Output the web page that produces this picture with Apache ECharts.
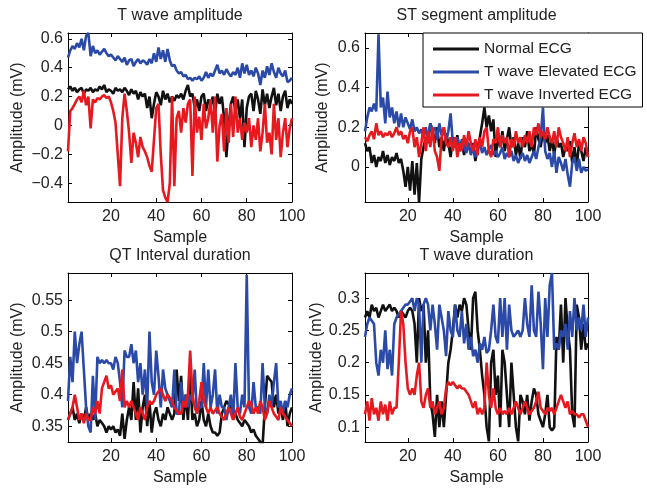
<!DOCTYPE html>
<html>
<head>
<meta charset="utf-8">
<script src="https://cdn.jsdelivr.net/npm/echarts@6/dist/echarts.min.js"></script>
<style>html,body{margin:0;padding:0;background:#fff;}#chart{width:647px;height:490px;}</style>
</head>
<body>
<div id="chart"></div>
<script>
// ---------- DATA ----------
const seriesNames = ['Normal ECG', 'T wave Elevated ECG', 'T wave Inverted ECG'];
const panelTitles = ['T wave amplitude', 'ST segment amplitude', 'QT Interval duration', 'T wave duration'];
const xTicks = [20, 40, 60, 80, 100];
const yTicks1 = [-0.4, -0.2, 0, 0.2, 0.4, 0.6];
const yTicks2 = [0, 0.2, 0.4, 0.6];
const yTicks3 = [0.35, 0.4, 0.45, 0.5, 0.55];
const yTicks4 = [0.1, 0.15, 0.2, 0.25, 0.3];

// T wave amplitude
const tampNormal = [0.25,0.27,0.24,0.26,0.23,0.25,0.26,0.22,0.25,0.24,
 0.26,0.23,0.25,0.24,0.27,0.25,0.28,0.23,0.25,0.24,
 0.22,0.26,0.24,0.25,0.23,0.26,0.24,0.21,0.25,0.22,
 0.24,0.18,0.23,0.20,0.22,0.12,0.20,0.05,0.15,0.23,
 0.20,0.14,0.24,0.18,0.22,0.16,0.20,0.17,0.21,0.19,
 0.22,0.18,0.24,0.28,0.20,0.22,0.12,0.18,0.10,0.20,
 0.22,0.10,0.18,0.14,0.20,0.08,0.22,0.15,0.20,0.05,
 -0.22,0.00,0.15,0.20,0.10,0.18,0.05,0.18,-0.15,0.12,
 0.20,0.22,0.10,0.24,0.18,0.08,0.25,0.14,0.22,0.12,
 0.20,0.26,0.14,0.22,0.10,0.20,0.24,0.12,0.18,0.15];
const tampElevated = [0.47,0.52,0.55,0.53,0.57,0.54,0.60,0.52,0.62,0.64,
 0.48,0.55,0.50,0.52,0.49,0.51,0.53,0.50,0.48,0.49,
 0.47,0.45,0.48,0.46,0.44,0.47,0.42,0.45,0.46,0.41,
 0.44,0.46,0.43,0.45,0.44,0.42,0.46,0.43,0.50,0.44,
 0.54,0.46,0.52,0.44,0.53,0.45,0.41,0.42,0.38,0.36,
 0.37,0.34,0.35,0.32,0.33,0.31,0.33,0.32,0.34,0.31,
 0.33,0.37,0.33,0.36,0.34,0.38,0.42,0.36,0.38,0.35,
 0.39,0.36,0.34,0.37,0.35,0.40,0.33,0.43,0.36,0.42,
 0.35,0.38,0.34,0.40,0.36,0.28,0.38,0.33,0.41,0.35,
 0.43,0.37,0.33,0.40,0.36,0.34,0.38,0.30,0.31,0.33];
const tampInverted = [-0.18,0.10,0.12,0.15,0.18,0.20,0.16,0.24,0.14,0.20,
 -0.02,0.18,0.16,0.19,0.18,0.20,0.21,0.19,0.20,0.16,
 0.10,0.02,-0.20,-0.42,0.05,0.22,0.10,-0.05,-0.26,-0.05,
 -0.12,-0.22,-0.08,-0.15,-0.18,-0.22,-0.28,-0.32,-0.10,0.12,
 0.15,-0.20,-0.45,-0.50,-0.53,-0.40,0.20,-0.42,0.05,0.10,
 -0.05,0.12,0.02,0.15,0.18,-0.35,0.20,-0.05,0.06,-0.10,
 0.15,-0.02,0.05,0.18,-0.05,0.20,-0.25,0.00,0.08,-0.18,
 0.12,-0.12,0.15,-0.08,0.20,-0.05,0.05,-0.10,0.02,-0.05,
 0.05,-0.15,0.00,-0.10,0.05,-0.18,-0.05,0.15,-0.12,-0.05,
 -0.20,0.15,-0.10,0.05,-0.22,-0.05,0.05,-0.15,-0.02,0.05];

// ST segment amplitude
const stNormal = [0.12,0.08,0.10,0.02,0.06,0.00,0.05,0.03,0.08,0.02,
 0.06,0.01,0.05,0.03,0.07,0.02,0.04,-0.02,-0.10,0.00,
 -0.12,0.03,-0.14,0.02,-0.18,0.04,0.10,0.15,0.12,0.22,
 0.18,0.12,0.20,0.10,0.15,0.08,0.17,0.12,0.05,0.15,
 0.10,0.16,0.08,0.12,0.06,0.14,0.10,0.08,0.12,0.03,
 0.10,0.15,0.22,0.30,0.20,0.26,0.18,0.24,0.05,0.15,
 0.10,0.18,0.08,0.14,0.20,0.10,0.15,0.06,0.12,0.04,
 0.15,0.10,0.18,0.08,0.12,0.06,0.20,0.14,0.10,0.18,
 0.12,0.16,0.08,0.14,0.06,0.15,0.10,0.12,0.05,0.10,
 0.08,0.13,0.02,0.10,0.00,0.12,0.08,0.03,0.10,0.05];
const stElevated = [0.18,0.25,0.30,0.28,0.32,0.28,0.67,0.30,0.35,0.22,
 0.38,0.25,0.30,0.22,0.28,0.20,0.27,0.20,0.25,0.22,
 0.19,0.24,0.18,0.20,0.17,0.19,0.15,0.20,0.14,0.22,
 0.18,0.20,0.14,0.22,0.16,0.20,0.13,0.18,0.27,0.12,
 0.10,0.15,0.08,0.14,0.10,0.07,0.12,0.06,0.10,0.05,
 0.09,0.12,0.07,0.10,0.06,0.09,0.11,0.06,0.08,0.05,
 0.07,0.10,0.04,0.07,0.05,0.08,0.03,0.06,0.02,0.05,
 0.07,0.03,0.06,0.02,0.05,0.08,0.04,0.10,0.15,0.30,
 0.08,0.04,0.07,0.00,0.08,-0.03,0.05,0.02,-0.02,0.04,
 -0.04,-0.10,0.02,0.05,-0.02,0.04,-0.03,0.00,-0.02,-0.01];
const stInverted = [0.15,0.13,0.16,0.18,0.14,0.22,0.16,0.18,0.15,0.17,
 0.16,0.18,0.15,0.17,0.20,0.16,0.18,0.14,0.16,0.12,
 0.18,0.20,0.10,0.15,0.05,0.12,0.20,0.08,0.18,0.10,
 0.20,0.08,0.05,-0.02,0.15,0.20,0.12,0.10,0.15,0.08,
 0.15,0.05,0.12,0.08,0.16,0.10,0.18,0.12,0.08,0.14,
 0.06,0.15,0.10,0.18,0.20,0.08,0.05,0.14,0.12,0.20,
 0.10,0.16,0.12,0.15,0.05,0.14,0.10,0.18,0.12,0.15,
 0.10,0.16,0.12,0.18,0.10,0.20,0.16,0.22,0.15,0.18,
 0.14,0.20,0.15,0.12,0.18,0.10,0.20,0.15,0.12,0.08,
 0.15,0.05,0.12,0.17,0.10,0.14,0.08,0.15,0.12,0.05];

// QT Interval duration
const qtNormal = [0.36,0.37,0.38,0.36,0.37,0.355,0.37,0.36,0.38,0.36,
 0.37,0.36,0.37,0.35,0.36,0.355,0.35,0.34,0.35,0.345,
 0.35,0.34,0.345,0.335,0.37,0.33,0.36,0.38,0.36,0.42,
 0.36,0.41,0.34,0.38,0.40,0.35,0.39,0.34,0.37,0.38,
 0.36,0.35,0.37,0.36,0.38,0.37,0.36,0.37,0.44,0.39,
 0.43,0.36,0.40,0.36,0.43,0.36,0.37,0.35,0.36,0.39,
 0.36,0.35,0.37,0.35,0.34,0.34,0.335,0.34,0.37,0.38,
 0.39,0.385,0.38,0.375,0.37,0.36,0.355,0.35,0.36,0.355,
 0.35,0.34,0.345,0.335,0.33,0.325,0.32,0.38,0.43,0.425,
 0.42,0.38,0.40,0.37,0.38,0.36,0.39,0.35,0.37,0.38];
const qtElevated = [0.39,0.46,0.42,0.50,0.45,0.48,0.50,0.44,0.38,0.35,
 0.34,0.43,0.36,0.46,0.45,0.455,0.45,0.455,0.45,0.45,
 0.44,0.46,0.45,0.42,0.38,0.47,0.46,0.46,0.48,0.45,
 0.47,0.42,0.45,0.40,0.44,0.38,0.50,0.42,0.40,0.47,
 0.43,0.38,0.44,0.41,0.40,0.39,0.38,0.44,0.37,0.37,
 0.42,0.38,0.40,0.38,0.40,0.39,0.44,0.37,0.38,0.38,
 0.45,0.38,0.44,0.38,0.40,0.44,0.37,0.40,0.38,0.38,
 0.36,0.38,0.40,0.36,0.45,0.38,0.37,0.40,0.38,0.59,
 0.38,0.37,0.42,0.38,0.38,0.37,0.45,0.38,0.37,0.40,
 0.38,0.42,0.45,0.38,0.39,0.37,0.39,0.38,0.40,0.41];
const qtInverted = [0.36,0.37,0.38,0.40,0.38,0.36,0.37,0.355,0.37,0.36,
 0.36,0.38,0.37,0.39,0.37,0.41,0.42,0.43,0.41,0.415,
 0.40,0.405,0.41,0.39,0.44,0.38,0.39,0.38,0.39,0.38,
 0.37,0.36,0.38,0.37,0.36,0.38,0.39,0.385,0.39,0.40,
 0.405,0.41,0.40,0.39,0.40,0.395,0.39,0.38,0.375,0.37,
 0.37,0.39,0.38,0.40,0.47,0.40,0.38,0.37,0.39,0.42,
 0.39,0.38,0.37,0.38,0.37,0.375,0.38,0.37,0.365,0.36,
 0.37,0.38,0.37,0.36,0.37,0.38,0.365,0.36,0.37,0.38,
 0.39,0.385,0.37,0.38,0.37,0.39,0.38,0.36,0.37,0.39,
 0.38,0.37,0.365,0.36,0.38,0.37,0.365,0.36,0.355,0.35];

// T wave duration
const tdurNormal = [0.27,0.28,0.27,0.29,0.28,0.285,0.27,0.28,0.29,0.28,
 0.285,0.29,0.28,0.285,0.28,0.27,0.28,0.275,0.27,0.28,
 0.285,0.28,0.26,0.20,0.30,0.28,0.29,0.20,0.25,0.14,
 0.12,0.085,0.15,0.10,0.14,0.10,0.15,0.20,0.22,0.25,
 0.29,0.27,0.29,0.28,0.30,0.29,0.25,0.22,0.30,0.31,
 0.25,0.22,0.18,0.15,0.10,0.078,0.20,0.22,0.15,0.18,
 0.10,0.22,0.20,0.15,0.10,0.20,0.15,0.10,0.078,0.15,
 0.14,0.12,0.15,0.11,0.14,0.16,0.15,0.12,0.11,0.10,
 0.12,0.15,0.10,0.095,0.10,0.24,0.22,0.29,0.20,0.30,
 0.25,0.22,0.12,0.10,0.29,0.27,0.22,0.26,0.22,0.23];
const tdurElevated = [0.24,0.26,0.27,0.265,0.26,0.20,0.18,0.22,0.20,0.25,
 0.19,0.22,0.18,0.26,0.27,0.275,0.28,0.285,0.29,0.29,
 0.295,0.30,0.28,0.30,0.29,0.20,0.29,0.30,0.29,0.25,
 0.29,0.26,0.22,0.29,0.27,0.25,0.21,0.28,0.25,0.24,
 0.29,0.25,0.24,0.28,0.23,0.26,0.22,0.24,0.21,0.22,
 0.20,0.23,0.22,0.24,0.215,0.22,0.25,0.29,0.24,0.23,
 0.30,0.24,0.30,0.22,0.29,0.25,0.24,0.245,0.25,0.24,
 0.25,0.30,0.26,0.24,0.32,0.25,0.24,0.31,0.26,0.19,
 0.30,0.24,0.32,0.339,0.22,0.23,0.22,0.25,0.24,0.26,
 0.22,0.28,0.24,0.30,0.25,0.27,0.25,0.29,0.24,0.27];
const tdurInverted = [0.12,0.14,0.11,0.145,0.12,0.13,0.11,0.14,0.12,0.135,
 0.11,0.14,0.12,0.13,0.13,0.20,0.28,0.26,0.20,0.16,
 0.15,0.16,0.15,0.18,0.20,0.14,0.13,0.15,0.16,0.13,
 0.14,0.12,0.13,0.14,0.12,0.13,0.16,0.17,0.165,0.17,
 0.165,0.16,0.165,0.16,0.16,0.155,0.15,0.14,0.13,0.14,
 0.12,0.13,0.12,0.13,0.20,0.15,0.13,0.16,0.13,0.12,
 0.13,0.12,0.125,0.12,0.13,0.12,0.13,0.14,0.13,0.12,
 0.13,0.14,0.13,0.12,0.125,0.13,0.14,0.155,0.13,0.125,
 0.12,0.13,0.125,0.13,0.12,0.13,0.14,0.15,0.14,0.13,
 0.14,0.12,0.125,0.12,0.12,0.115,0.12,0.12,0.11,0.10];

// ---------- CHART ----------
const FONT = 'Liberation Sans, Arial, Helvetica, sans-serif';
const TXT = '#222';
const FS = 16;
const COLORS = ['#111111', '#2b4aa8', '#e5191e'];

const panels = [
  {grid:{left:68, top:33, width:224, height:169}, ymin:-0.53, ymax:0.64, yt:yTicks1, gap:42, data:[tampNormal,tampElevated,tampInverted]},
  {grid:{left:365, top:33, width:223, height:169}, ymin:-0.177, ymax:0.676, yt:yTicks2, gap:34, data:[stNormal,stElevated,stInverted]},
  {grid:{left:68, top:273, width:224, height:169}, ymin:0.325, ymax:0.593, yt:yTicks3, gap:42, data:[qtNormal,qtElevated,qtInverted]},
  {grid:{left:365, top:273, width:223, height:169}, ymin:0.077, ymax:0.339, yt:yTicks4, gap:39, data:[tdurNormal,tdurElevated,tdurInverted]}
];

function fmt(v){
  const r = parseFloat(v.toFixed(2));
  return r < 0 ? '\u2212' + String(-r) : String(r);
}

const grid = [], xAxis = [], yAxis = [], series = [], title = [];
panels.forEach((p, i) => {
  grid.push(Object.assign({containLabel:false}, p.grid));
  title.push({
    text: panelTitles[i],
    left: p.grid.left + p.grid.width / 2,
    top: p.grid.top - 25,
    padding: 0,
    textAlign: 'center',
    textStyle: {fontFamily: FONT, fontSize: FS, fontWeight: 'normal', color: TXT}
  });
  const lineStyle = {color:'#000', width:1};
  xAxis.push({
    type:'value', gridIndex:i, min:1, max:100, position:'bottom',
    name:'Sample', nameLocation:'middle', nameGap:28,
    nameTextStyle:{fontFamily:FONT, fontSize:FS, color:TXT},
    axisLine:{show:true, onZero:false, lineStyle},
    axisTick:{show:true, inside:true, length:4, lineStyle, customValues:xTicks},
    axisLabel:{show:true, margin:7, fontFamily:FONT, fontSize:FS, color:TXT, customValues:xTicks, formatter:v=>String(v)},
    splitLine:{show:false}
  });
  xAxis.push({
    type:'value', gridIndex:i, min:1, max:100, position:'top',
    axisLine:{show:true, onZero:false, lineStyle},
    axisTick:{show:true, inside:true, length:4, lineStyle, customValues:xTicks},
    axisLabel:{show:false, customValues:xTicks},
    splitLine:{show:false}
  });
  yAxis.push({
    type:'value', gridIndex:i, min:p.ymin, max:p.ymax, position:'left',
    name:'Amplitude (mV)', nameLocation:'middle', nameGap:p.gap, nameRotate:90,
    nameTextStyle:{fontFamily:FONT, fontSize:FS, color:TXT},
    axisLine:{show:true, onZero:false, lineStyle},
    axisTick:{show:true, inside:true, length:4, lineStyle, customValues:p.yt},
    axisLabel:{show:true, margin:5, fontFamily:FONT, fontSize:FS, color:TXT, customValues:p.yt, formatter:fmt},
    splitLine:{show:false}
  });
  yAxis.push({
    type:'value', gridIndex:i, min:p.ymin, max:p.ymax, position:'right',
    axisLine:{show:true, onZero:false, lineStyle},
    axisTick:{show:true, inside:true, length:4, lineStyle, customValues:p.yt},
    axisLabel:{show:false, customValues:p.yt},
    splitLine:{show:false}
  });
  p.data.forEach((arr, k) => {
    series.push({
      type:'line', name:seriesNames[k],
      xAxisIndex:i*2, yAxisIndex:i*2,
      data: arr.map((v, j) => [j + 1, v]),
      showSymbol:false, symbol:'none', clip:true,
      color: COLORS[k],
      lineStyle:{color:COLORS[k], width:2.6},
      z: 2 + k,
      silent:true, animation:false
    });
  });
});

const chart = echarts.init(document.getElementById('chart'), null, {renderer:'canvas'});
chart.setOption({
  animation:false,
  backgroundColor:'#fff',
  title,
  grid, xAxis, yAxis, series,
  legend:{
    data: seriesNames,
    orient:'vertical',
    left:423, top:33,
    padding:[8, 6, 4, 10],
    itemGap:7,
    itemWidth:46, itemHeight:3,
    icon:'rect',
    backgroundColor:'#fff',
    borderColor:'#000', borderWidth:1,
    selectedMode:false,
    textStyle:{fontFamily:FONT, fontSize:15.5, color:TXT},
    z: 10
  }
});
</script>
</body>
</html>
